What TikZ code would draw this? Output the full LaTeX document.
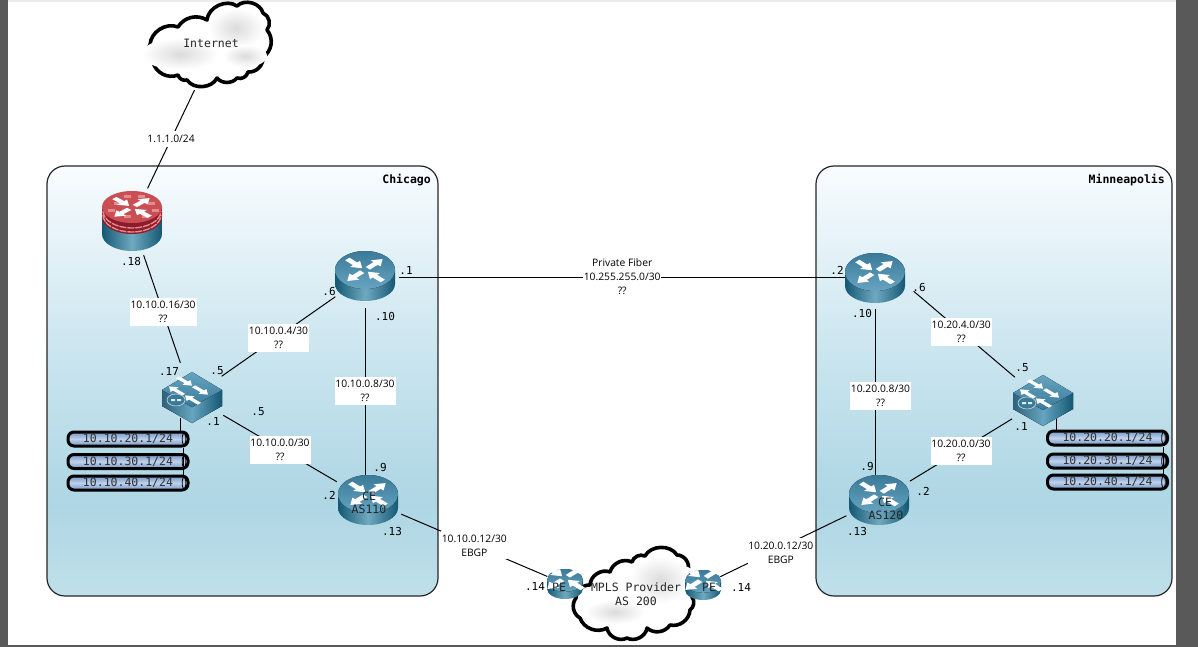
\documentclass[tikz,border=0pt]{standalone}
\usepackage{fontspec}
\newfontfamily\netmono{DejaVu Sans Mono}
\newfontfamily\netsans{Open Sans}
\usepackage{tikz}

\definecolor{framegray}{HTML}{595959}
\definecolor{siteA}{HTML}{BFE0EA}
\definecolor{siteB}{HTML}{AED6E4}
\definecolor{siteC}{HTML}{C8E4EE}
\definecolor{siteD}{HTML}{F8FCFE}
\definecolor{devdark}{HTML}{155873}
\definecolor{devmid}{HTML}{6FA9C0}
\definecolor{devtop}{HTML}{3A7A99}
\definecolor{devface}{HTML}{66A4C0}
\definecolor{fwred}{HTML}{C94F55}
\definecolor{fwbrick}{HTML}{8C1C2C}
\definecolor{fwpink}{HTML}{E88A8C}
\definecolor{barblue}{HTML}{7396C6}
\definecolor{barlight}{HTML}{BFD2EA}

\pgfdeclareverticalshading{sitefill}{100bp}{color(0bp)=(siteA); color(25bp)=(siteA); color(36bp)=(siteB); color(52bp)=(siteC); color(75bp)=(siteD); color(100bp)=(siteD)}

\tikzset{
    sitebox/.style={draw=black!85, line width=1.2pt, rounded corners=18pt, shading=sitefill},
    sitename/.style={font=\netmono\bfseries\fontsize{11.5}{13}\selectfont, anchor=east, inner sep=0pt},
    addr/.style={font=\netmono\fontsize{11}{13}\selectfont, inner sep=0pt},
    devtext/.style={font=\netmono\fontsize{11.5}{14}\selectfont, inner sep=0pt, text=black!85},
    lbl/.style={font=\netsans\fontsize{10.3}{14}\selectfont, fill=white, align=center, inner sep=0pt, minimum width=61pt, minimum height=28pt},
    lblwide/.style={lbl, minimum width=66pt},
    link/.style={line width=1pt},
    devnode/.style={circle, minimum size=72pt, inner sep=0pt},
    penode/.style={circle, minimum size=38pt, inner sep=0pt},
    vlanbar/.style={draw=black, line width=3pt, rounded corners=6pt, minimum width=120pt, minimum height=14pt, inner sep=0pt, top color=barblue, bottom color=barblue, middle color=barlight, font=\netmono\fontsize{11.5}{13}\selectfont, text=black!80},
    cloudline/.style={draw=black, line width=3.6pt, fill=white, line join=round},
    cloudblob/.style={inner color=black!14, outer color=white},
    % Four white arrows on a round top face
    facearrows/.pic={
        \foreach \a in {45,225} \fill[white, shift={(0,#1)}, yscale=.62, rotate=\a] (4,-3) -- (15,-3) -- (15,-7) -- (25,0) -- (15,7) -- (15,3) -- (4,3) -- cycle;
        \foreach \a in {135,315} \fill[white, shift={(0,#1)}, yscale=.62, rotate=\a] (25,-3) -- (14,-3) -- (14,-7) -- (4,0) -- (14,7) -- (14,3) -- (25,3) -- cycle;
    },
    % Round router
    routerpic/.pic={
        \path[left color=devdark, right color=devdark, middle color=devmid] (-30,-6) -- (-30,8) arc[start angle=180, end angle=360, x radius=30pt, y radius=17pt] -- (30,-6) -- cycle;
        \fill[top color=devtop, bottom color=devface] (0,-6) ellipse (30pt and 19pt);
        \pic {facearrows=-6};
    },
    % Firewall with a brick band
    firewallpic/.pic={
        \path[left color=devdark, right color=devdark, middle color=devmid] (-30,-10) -- (-30,13) arc[start angle=180, end angle=360, x radius=30pt, y radius=17pt] -- (30,-10) -- cycle;
        \fill[fwbrick] (-30,-14) -- (-30,-4) arc[start angle=180, end angle=360, x radius=30pt, y radius=17pt] -- (30,-14) -- cycle;
        \foreach \h in {-10,-6} \draw[fwpink, line width=1.4pt, dash pattern=on 7pt off 1pt] (-29,\h) arc[start angle=180, end angle=360, x radius=29pt, y radius=17pt];
        \fill[fwred] (0,-14) ellipse (30pt and 16pt);
        \foreach \px/\py in {-18/-19,-8/-26,6/-26,16/-19,-24/-12,10/-6,-8/-6,20/-12} \fill[fwpink] (\px,\py) rectangle ++(7,3);
        \pic[yscale=.85] {facearrows=-16};
    },
    % Layer three switch
    switchpic/.pic={
        \fill[devtop] (0,-25) -- (30,-7) -- (30,9) -- (0,26) -- (-30,9) -- (-30,-7) -- cycle;
        \fill[left color=devtop!80!black, right color=devface] (-30,-7) -- (0,10) -- (0,26) -- (-30,9) -- cycle;
        \fill[left color=devface, right color=devdark] (0,10) -- (30,-7) -- (30,9) -- (0,26) -- cycle;
        \fill[top color=devface, bottom color=devtop] (0,-25) -- (30,-7) -- (0,10) -- (-30,-7) -- cycle;
        \foreach \ax/\ay/\ar in {-8/-16/0, 8/-7/0, -15/-6/180, 1/3/180} \fill[white, shift={(\ax,\ay)}, cm={1,-.58,1,.58,(0,0)}, rotate=\ar, scale=.8] (-8,-2) -- (3,-2) -- (3,-5) -- (10,0) -- (3,5) -- (3,2) -- (-8,2) -- cycle;
        \draw[white!70!devtop, line width=.6pt, fill=devtop] (-16,3) ellipse (9pt and 6pt);
        \fill[white!85!devtop] (-21,2) rectangle (-17,4) (-15,2) rectangle (-11,4);
    },
}

\begin{document}
\begin{tikzpicture}[x=1pt, y=-1pt]
    \useasboundingbox (0,0) rectangle (1198,647);
    % Screenshot frame
    \fill[framegray] (0,0) rectangle (8,647);
    \fill[framegray] (1176,0) rectangle (1198,647);
    \fill[framegray] (0,645) rectangle (1198,647);
    \fill[black!8] (8,0) rectangle (1176,2);

    % Sites
    \path[sitebox] (47,166) rectangle (438,596);
    \path[sitebox] (816,166) rectangle (1172,596);
    \node[sitename] (chicago) at (431,180) {Chicago};
    \node[sitename] (minneapolis) at (1165,180) {Minneapolis};

    % Device nodes
    \node[devnode] (fw) at (132,221) {};
    \node[devnode] (r1) at (365,276) {};
    \node[devnode] (swa) at (192,397) {};
    \node[devnode] (ce1) at (368,500) {};
    \node[penode] (pe1) at (565,584) {};
    \node[penode] (pe2) at (703,585) {};
    \node[devnode] (r2) at (875,278) {};
    \node[devnode] (swb) at (1043,400) {};
    \node[devnode] (ce2) at (879,500) {};
    \node[circle, minimum size=104pt, inner sep=0pt] (inet) at (217,43) {};
    \coordinate (swaport) at (180,418);
    \coordinate (swbport) at (1056,414);

    % Links inside Chicago
    \draw[link] (inet) -- node[lbl, minimum width=50pt, minimum height=16pt, pos=.5] (lnkinet) {1.1.1.0/24} (fw);
    \draw[link] (fw) -- node[lbl, minimum width=67pt, pos=.53] (lnkfw) {10.10.0.16/30\\??} (swa);
    \draw[link] (swa) -- node[lbl, pos=.5, yshift=-1.5pt] (lnkswr) {10.10.0.4/30\\??} (r1);
    \draw[link] (swa) -- node[lbl, pos=.5, yshift=-1pt] (lnkswce) {10.10.0.0/30\\??} (ce1);
    \draw[link, shorten <=-4pt, shorten >=-13pt] (r1) -- node[lbl, pos=.42] (lnkrce) {10.10.0.8/30\\??} (r1 |- ce1);

    % Links inside Minneapolis
    \draw[link, shorten <=5pt] (r2.-16) -- node[lbl, pos=.49] (lnkrsw) {10.20.4.0/30\\??} (swb.141);
    \draw[link] (swb) -- node[lbl, pos=.5, yshift=-1pt] (lnkswce2) {10.20.0.0/30\\??} (ce2);
    \draw[link, shorten <=-5pt, shorten >=-13pt] (r2) -- node[lbl, pos=.44, xshift=5.5pt] (lnkrce2) {10.20.0.8/30\\??} (r2 |- ce2);

    % Links between the sites
    \draw[link, shorten <=-2pt, shorten >=-6pt] ([yshift=-1pt]r1.east) -- node[lblwide, minimum width=78pt, minimum height=42pt, pos=.505] (lnkfiber) {Private Fiber\\10.255.255.0/30\\??} ([yshift=1pt]r2.west);
    \draw[link] (ce1) -- node[lblwide, pos=.5] (lnkebgp1) {10.10.0.12/30\\EBGP} (pe1);
    \draw[link] (ce2) -- node[lblwide, pos=.52, yshift=-5pt] (lnkebgp2) {10.20.0.12/30\\EBGP} (pe2);

    % Interface bars
    \draw[link] (swaport) -- (swaport |- 0,431);
    \draw[link] (swbport) -- (swbport |- 0,430);
    \node[vlanbar] (vlana1) at (128,439) {10.10.20.1/24};
    \node[vlanbar] (vlana2) at (128,461.5) {10.10.30.1/24};
    \node[vlanbar] (vlana3) at (128,483) {10.10.40.1/24};
    \node[vlanbar] (vlanb1) at (1107.5,438) {10.20.20.1/24};
    \node[vlanbar] (vlanb2) at (1107.5,461) {10.20.30.1/24};
    \node[vlanbar] (vlanb3) at (1107.5,482) {10.20.40.1/24};
    \foreach \n in {vlana1,vlana2,vlana3,vlanb1,vlanb2,vlanb3}
        \draw[black, line width=.8pt] ([xshift=-5.5pt]\n.east) ellipse (1.8pt and 6pt);
    \draw[link] ([xshift=-6pt]vlana1.south east) -- ([xshift=-6pt]vlana3.north east);
    \draw[link] ([xshift=-6pt]vlanb1.south east) -- ([xshift=-6pt]vlanb3.north east);

    % Internet cloud
    \draw[cloudline] (150,45) to[bend left=55] (178,27) to[bend left=45] (207,20) to[bend left=60] (237,6) to[bend left=60] (263,13) to[bend left=55] (267,30) to[bend left=50] (263,57) to[bend left=50] (248,72) to[bend left=50] (237,78) to[bend left=50] (217,78) to[bend left=60] (187,80) to[bend left=45] (178,75) to[bend left=50] (153,62) to[bend left=60] (150,45) -- cycle;
    \shade[cloudblob] (180,54) ellipse (38pt and 16pt);
    \shade[cloudblob] (236,28) ellipse (28pt and 20pt);
    \shade[cloudblob] (245,56) ellipse (22pt and 11pt);
    \node[devtext] (inettext) at (211,43) {Internet};

    % MPLS cloud
    \draw[cloudline] (576,598) to[bend left=45] (590,585) to[bend left=55] (610,572) to[bend left=50] (632,562) to[bend left=50] (645,556) to[bend left=60] (677,555) to[bend left=55] (688,570) to[bend left=45] (692,597) to[bend left=45] (690,610) to[bend left=50] (670,625) to[bend left=50] (647,628) to[bend left=55] (627,638) to[bend left=55] (607,628) to[bend left=50] (580,618) to[bend left=50] (576,598) -- cycle;
    \shade[cloudblob] (660,580) ellipse (30pt and 24pt);
    \shade[cloudblob] (615,612) ellipse (30pt and 12pt);

    % Device icons
    \pic at (fw) {firewallpic};
    \pic at (r1) {routerpic};
    \pic at (swa) {switchpic};
    \pic at (ce1) {routerpic};
    \pic at (r2) {routerpic};
    \pic at (swb) {switchpic};
    \pic at (ce2) {routerpic};
    \pic[scale=.6] at (pe1) {routerpic};
    \pic[scale=.6] at (pe2) {routerpic};

    % Text on the devices
    \node[devtext] (ce1text) at (369,496) {CE};
    \node[devtext] (ce1as) at (369,509) {AS110};
    \node[devtext] (ce2text) at (885,502) {CE};
    \node[devtext] (ce2as) at (886,515) {AS120};
    \node[devtext] (pe1text) at (559,587) {PE};
    \node[devtext] (pe2text) at (709,587) {PE};
    \node[devtext, align=center] (mplstext) at (636,594) {MPLS Provider\\AS 200};

    % Interface addresses in Chicago
    \node[addr] (a18) at (131,261) {.18};
    \node[addr] (a1) at (406,270) {.1};
    \node[addr] (a6) at (329,291) {.6};
    \node[addr] (a10) at (385,316) {.10};
    \node[addr] (a17) at (169,371) {.17};
    \node[addr] (a5) at (217,371) {.5};
    \node[addr] (a5b) at (258,412) {.5};
    \node[addr] (a1b) at (213,421) {.1};
    \node[addr] (a9) at (380,467) {.9};
    \node[addr] (a2) at (329,495) {.2};
    \node[addr] (a13) at (392,531) {.13};

    % Interface addresses at the provider
    \node[addr] (p14a) at (535,586) {.14};
    \node[addr] (p14b) at (741,587) {.14};

    % Interface addresses in Minneapolis
    \node[addr] (b2) at (837,270) {.2};
    \node[addr] (b6) at (919,287) {.6};
    \node[addr] (b10) at (862,313) {.10};
    \node[addr] (b5) at (1022,368) {.5};
    \node[addr] (b1) at (1021,426) {.1};
    \node[addr] (b9) at (867,466) {.9};
    \node[addr] (b2b) at (923,491) {.2};
    \node[addr] (b13) at (857,531) {.13};
\end{tikzpicture}
\end{document}
